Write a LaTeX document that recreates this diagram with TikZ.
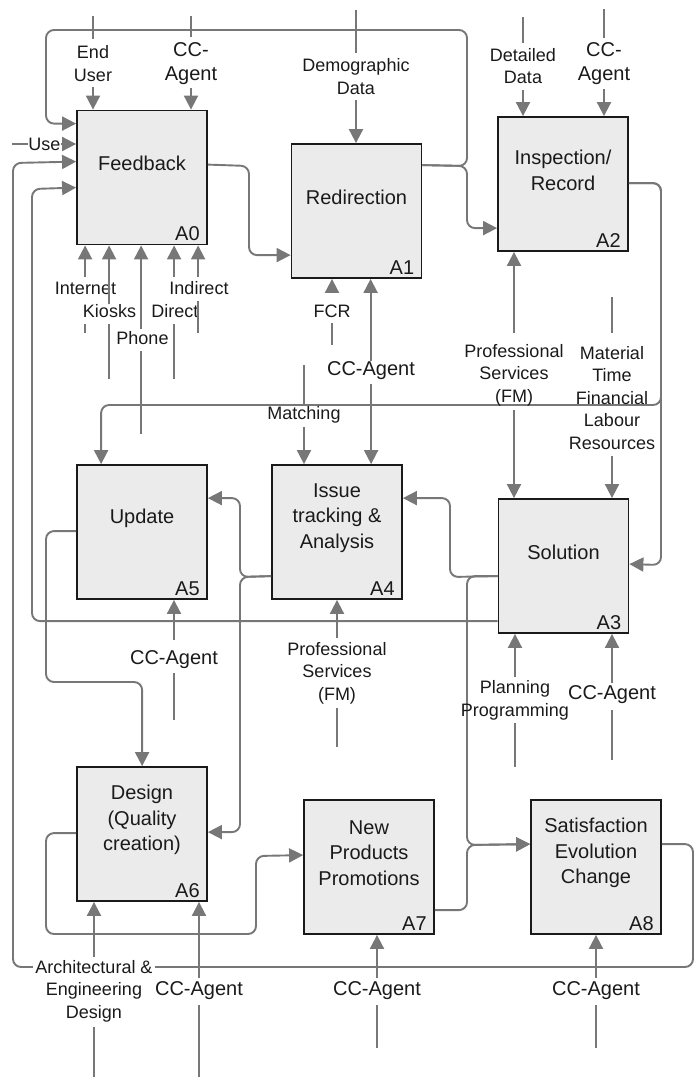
\documentclass[tikz,border=0pt]{standalone}
\usepackage{fontspec}
\setmainfont{Liberation Sans}
\usetikzlibrary{arrows.meta,calc}
\definecolor{linegray}{HTML}{777777}
\definecolor{boxfill}{HTML}{EBEBEB}
\definecolor{ink}{HTML}{1A1A1A}
\begin{document}
\begin{tikzpicture}[x=1pt,y=-1pt,
  box/.style={draw=ink, line width=1.8pt, fill=boxfill, minimum width=130pt, minimum height=134pt, inner sep=0pt},
  title/.style={font=\fontsize{20}{25.5}\selectfont, align=center, text=ink, inner sep=0pt},
  tag/.style={font=\fontsize{20}{24}\selectfont, text=ink, anchor=south east, inner sep=0pt},
  lab/.style={font=\fontsize{18}{22.5}\selectfont, align=center, text=ink, inner sep=0pt},
  blab/.style={font=\fontsize{20}{24}\selectfont, align=center, text=ink, inner sep=0pt},
  flow/.style={draw=linegray, line width=1.9pt, rounded corners=8pt},
  arr/.style={flow, -{Triangle[length=14pt,width=14pt]}},
]
\useasboundingbox (0,0) rectangle (697,1077);

% ---------- activity boxes ----------
\node[box] (A0) at (142,177.5) {};
\node[box] (A1) at (356.5,211) {};
\node[box] (A2) at (563,184) {};
\node[box] (A3) at (563.5,566) {};
\node[box] (A4) at (337,532) {};
\node[box] (A5) at (142,532) {};
\node[box] (A6) at (142,834) {};
\node[box] (A7) at (369,867) {};
\node[box] (A8) at (596,867) {};

\node[title] (A0t) at ($(A0.north)+(0,54)$) {Feedback};
\node[title] (A1t) at ($(A1.north)+(0,54)$) {Redirection};
\node[title] (A2t) at ($(A2.north)+(0,54)$) {Inspection/\\Record};
\node[title] (A3t) at ($(A3.north)+(0,54)$) {Solution};
\node[title] (A4t) at ($(A4.north)+(0,54)$) {Issue\\tracking \&\\Analysis};
\node[title] (A5t) at ($(A5.north)+(0,54)$) {Update};
\node[title] (A6t) at ($(A6.north)+(0,54)$) {Design\\(Quality\\creation)};
\node[title] (A7t) at ($(A7.north)+(0,54)$) {New\\Products\\Promotions};
\node[title] (A8t) at ($(A8.north)+(0,54)$) {Satisfaction\\Evolution\\Change};

\node[tag] (A0n) at ($(A0.south east)+(-8,-4.5)$) {A0};
\node[tag] (A1n) at ($(A1.south east)+(-8,-4.5)$) {A1};
\node[tag] (A2n) at ($(A2.south east)+(-8,-4.5)$) {A2};
\node[tag] (A3n) at ($(A3.south east)+(-8,-4.5)$) {A3};
\node[tag] (A4n) at ($(A4.south east)+(-8,-4.5)$) {A4};
\node[tag] (A5n) at ($(A5.south east)+(-8,-4.5)$) {A5};
\node[tag] (A6n) at ($(A6.south east)+(-8,-4.5)$) {A6};
\node[tag] (A7n) at ($(A7.south east)+(-8,-4.5)$) {A7};
\node[tag] (A8n) at ($(A8.south east)+(-8,-4.5)$) {A8};

% ---------- flows between activities ----------
% Redirection: back over the top to Feedback, and on to Inspection
\draw[arr] ($(A1.north east)+(0,22)$) -- (467,166) |- (46,30) |- ($(A0.north west)+(0,14)$);
\draw[arr] ($(A1.north east)+(0,22)$) -- (467,166) |- ($(A2.north west)+(0,112)$);
% Feedback -> Redirection
\draw[arr] ($(A0.north east)+(0,55)$) -- (249,166) |- ($(A1.north west)+(0,112)$);
% Inspection -> Update and Solution
\draw[arr] ($(A2.north east)+(0,67)$) -| (661,405) -| ($(A5.north west)+(25,0)$);
\draw[arr] ($(A2.north east)+(0,67)$) -| (661,565) -- ($(A3.north east)+(0,66)$);
% Solution -> Issue tracking and Satisfaction
\draw[arr] ($(A3.north west)+(0,78)$) -- (450,577) |- ($(A4.north east)+(0,34)$);
\draw[arr] ($(A3.north west)+(0,78)$) -| (467,845) -- ($(A8.north west)+(0,45)$);
% New products -> Satisfaction
\draw[arr] ($(A7.north east)+(0,111)$) -| (467,845) -- ($(A8.north west)+(0,45)$);
% Solution -> Feedback (inner loop)
\draw[arr] ($(A3.north west)+(0,123)$) -| (32,189) -- ($(A0.north west)+(0,78)$);
% Satisfaction -> Feedback (outer loop)
\draw[arr] ($(A8.north east)+(0,45)$) -| (693,967) -| (13,163) -- ($(A0.north west)+(0,52)$);
% Issue tracking -> Update and Design
\draw[arr] ($(A4.north west)+(0,112)$) -- (240,577) |- ($(A5.north east)+(0,34)$);
\draw[arr] ($(A4.north west)+(0,112)$) -- (240,577) |- ($(A6.north east)+(0,66)$);
% Update -> Design
\draw[arr] ($(A5.north west)+(0,67)$) -| (46,682) -| ($(A6.north west)+(66,0)$);
% Design -> New products
\draw[arr] ($(A6.north west)+(0,67)$) -| (46,934) -| (256,856) -- ($(A7.north west)+(0,56)$);

% ---------- inputs above the top row ----------
\node[lab] (lEU) at (93,63.5) {End\\User};
\draw[flow] (lEU |- 0,16) -- (lEU |- 0,39);
\draw[arr] (lEU |- 0,87) -- (lEU |- A0.north);

\node[blab] (lCC0) at (191,64) {CC-\\Agent};
\draw[flow] (lCC0 |- 0,16) -- (lCC0 |- 0,37);
\draw[arr] (lCC0 |- 0,88) -- (lCC0 |- A0.north);

\node[lab] (lDem) at (356,76.5) {Demographic\\Data};
\draw[flow] (lDem |- 0,10) -- (lDem |- 0,53);
\draw[arr] (lDem |- 0,100) -- (lDem |- A1.north);

\node[lab] (lDet) at (523,66) {Detailed\\Data};
\draw[flow] (lDet |- 0,17) -- (lDet |- 0,43);
\draw[arr] (lDet |- 0,90) -- (lDet |- A2.north);

\node[blab] (lCC2) at (604,63.5) {CC-\\Agent};
\draw[flow] (lCC2 |- 0,9) -- (lCC2 |- 0,38);
\draw[arr] (lCC2 |- 0,89) -- (lCC2 |- A2.north);

\node[lab] (lUse) at (44.5,144) {Use};
\draw[flow] (12,0 |- lUse) -- (28,0 |- lUse);
\draw[arr] (61,0 |- lUse) -- (A0.west |- lUse);

% ---------- channels under Feedback ----------
\node[lab] (lInt) at (85.5,288) {Internet};
\node[lab] (lInd) at (199,288) {Indirect};
\node[lab] (lKio) at (109.5,311) {Kiosks};
\node[lab] (lDir) at (175,311) {Direct};
\node[lab] (lPho) at (142.5,338) {Phone};

\draw[arr] ($(A0.south west)+(9,32)$) -- ($(A0.south west)+(9,0)$);
\draw[flow] ($(A0.south west)+(9,79)$) -- ($(A0.south west)+(9,88)$);
\draw[arr] ($(A0.south west)+(33,59)$) -- ($(A0.south west)+(33,0)$);
\draw[flow] ($(A0.south west)+(33,79)$) -- ($(A0.south west)+(33,134)$);
\draw[arr] ($(A0.south west)+(65,84)$) -- ($(A0.south west)+(65,0)$);
\draw[flow] ($(A0.south west)+(65,106)$) -- ($(A0.south west)+(65,189)$);
\draw[arr] ($(A0.south west)+(98,32)$) -- ($(A0.south west)+(98,0)$);
\draw[flow] ($(A0.south west)+(98,79)$) -- ($(A0.south west)+(98,134)$);
\draw[arr] ($(A0.south west)+(122,32)$) -- ($(A0.south west)+(122,0)$);
\draw[flow] ($(A0.south west)+(122,56)$) -- ($(A0.south west)+(122,88)$);

% ---------- controls between the top and middle rows ----------
\node[lab] (lFCR) at (332,311) {FCR};
\draw[arr] (lFCR |- 0,293) -- (lFCR |- A1.south);
\draw[flow] (lFCR |- 0,323) -- (lFCR |- 0,345);

\node[blab] (lCC1) at (371,371) {CC-Agent};
\draw[arr] ($(A1.south west)+(80,82)$) -- ($(A1.south west)+(80,0)$);
\draw[arr] ($(A4.north west)+(100,-80)$) -- ($(A4.north west)+(100,0)$);

\node[lab] (lPS1) at (514,375) {Professional\\Services\\(FM)};
\draw[arr] (lPS1 |- 0,333) -- (lPS1 |- A2.south);
\draw[arr] (lPS1 |- 0,410) -- (lPS1 |- A3.north);

\node[lab] (lMat) at (612,398) {Material\\Time\\Financial\\Labour\\Resources};
\draw[flow] (lMat |- 0,297) -- (lMat |- 0,333);
\draw[arr] (lMat |- 0,456) -- (lMat |- A3.north);

\node[lab] (lMatch) at (304,415) {Matching};
\draw[flow] (lMatch |- 0,365) -- (lMatch |- 0,405);
\draw[arr] (lMatch |- 0,427) -- (lMatch |- A4.north);

% ---------- controls under the middle row ----------
\node[blab] (lCC5) at (174,660) {CC-Agent};
\draw[arr] (lCC5 |- 0,640) -- (lCC5 |- A5.south);
\draw[flow] (lCC5 |- 0,673) -- (lCC5 |- 0,720);

\node[lab] (lPS4) at (337,673) {Professional\\Services\\(FM)};
\draw[arr] (lPS4 |- 0,638) -- (lPS4 |- A4.south);
\draw[flow] (lPS4 |- 0,708) -- (lPS4 |- 0,747);

\node[lab] (lPlan) at (515,700.5) {Planning\\Programming};
\draw[arr] (lPlan |- 0,677) -- (lPlan |- A3.south);
\draw[flow] (lPlan |- 0,723) -- (lPlan |- 0,767);

\node[blab] (lCC3) at (612,695) {CC-Agent};
\draw[arr] (lCC3 |- 0,683) -- (lCC3 |- A3.south);
\draw[flow] (lCC3 |- 0,710) -- (lCC3 |- 0,760);

% ---------- controls under the bottom row ----------
\node[lab, fill=white, inner sep=2pt] (lArch) at (94,991) {Architectural \&\\Engineering\\Design};
\draw[arr] (lArch |- 0,957) -- (lArch |- A6.south);
\draw[flow] (lArch |- 0,1027) -- (lArch |- 0,1077);

\node[blab] (lCC6) at (199,991) {CC-Agent};
\draw[arr] (lCC6 |- 0,978) -- (lCC6 |- A6.south);
\draw[flow] (lCC6 |- 0,1005) -- (lCC6 |- 0,1077);

\node[blab] (lCC7) at (377,991) {CC-Agent};
\draw[arr] (lCC7 |- 0,978) -- (lCC7 |- A7.south);
\draw[flow] (lCC7 |- 0,1005) -- (lCC7 |- 0,1048);

\node[blab] (lCC8) at (596,991) {CC-Agent};
\draw[arr] (lCC8 |- 0,978) -- (lCC8 |- A8.south);
\draw[flow] (lCC8 |- 0,1005) -- (lCC8 |- 0,1048);
\end{tikzpicture}
\end{document}
